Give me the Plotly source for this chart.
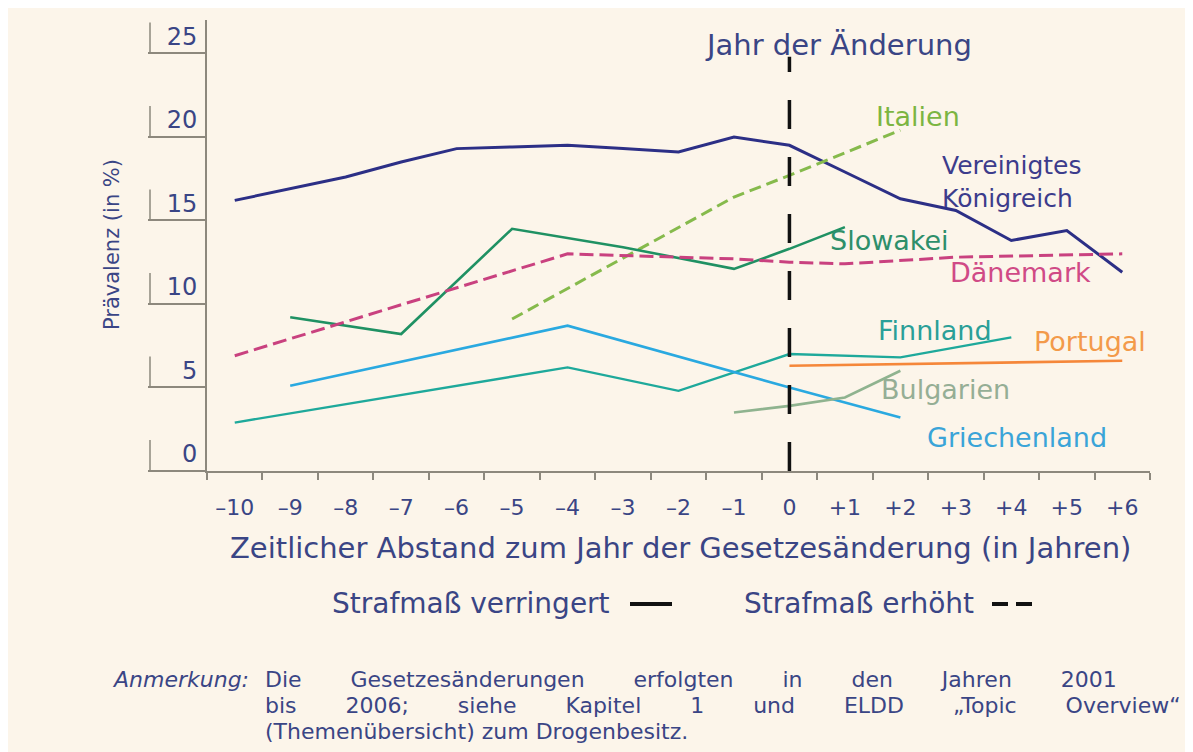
import plotly.graph_objects as go

# ---------------- data ----------------
uk_x = [-10, -9, -8, -7, -6, -5, -4, -3, -2, -1, 0, 1, 2, 3, 4, 5, 6]
uk_y = [16.2, 16.9, 17.6, 18.5, 19.3, 19.4, 19.5, 19.3, 19.1, 20.0, 19.5, 17.9, 16.3, 15.6, 13.8, 14.4, 11.9]

it_x = [-5, -1, 0, 2]
it_y = [9.1, 16.4, 17.7, 20.4]

sk_x = [-9, -7, -5, -3, -1, 0, 1]
sk_y = [9.2, 8.2, 14.5, 13.4, 12.1, 13.3, 14.6]

dk_x = [-10, -4, -1, 0, 1, 3, 6]
dk_y = [6.9, 13.0, 12.7, 12.5, 12.4, 12.8, 13.0]

fi_x = [-10, -4, -2, 0, 2, 4]
fi_y = [2.9, 6.2, 4.8, 7.0, 6.8, 8.0]

gr_x = [-9, -4, 0, 2]
gr_y = [5.1, 8.7, 5.0, 3.2]

pt_x = [0, 6]
pt_y = [6.3, 6.6]

bg_x = [-1, 0, 1, 2]
bg_y = [3.5, 3.9, 4.4, 6.0]

x_ticks = list(range(-10, 7))
x_labels = ["\u2013" + str(-v) if v < 0 else ("0" if v == 0 else "+" + str(v)) for v in x_ticks]
y_ticks = [0, 5, 10, 15, 20, 25]

# ---------------- styling ----------------
BG = "#fcf5ea"
NAVY = "#3a4585"
FONT = "DejaVu Sans, Verdana, sans-serif"
AXC = "#8d887d"
LBL = 27

series = [
    ("Vereinigtes Königreich", uk_x, uk_y, "#2c2f86", "solid", 3),
    ("Italien", it_x, it_y, "#86ba4c", "12px,6px", 3),
    ("Slowakei", sk_x, sk_y, "#1f9163", "solid", 2.6),
    ("Dänemark", dk_x, dk_y, "#c9417f", "14px,6px", 3),
    ("Finnland", fi_x, fi_y, "#1ea99b", "solid", 2.4),
    ("Griechenland", gr_x, gr_y, "#2aa9e0", "solid", 2.6),
    ("Portugal", pt_x, pt_y, "#f5873a", "solid", 2.6),
    ("Bulgarien", bg_x, bg_y, "#8fb38f", "solid", 2.6),
]

fig = go.Figure()
for name, xs, ys, col, dash, w in series:
    fig.add_trace(go.Scatter(x=xs, y=ys, mode="lines", name=name,
                             line=dict(color=col, width=w, dash=dash),
                             showlegend=False, hoverinfo="skip"))

labels = [
    ("Italien", 2.32, 21.2, "#7cb542", LBL),
    ("Vereinigtes<br>Königreich", 4.0, 17.3, "#3c3c8c", 25),
    ("Slowakei", 1.81, 13.8, "#2e8f6a", LBL),
    ("Dänemark", 4.16, 11.9, "#d04a86", LBL),
    ("Finnland", 2.63, 8.44, "#2a9f98", LBL),
    ("Portugal", 5.42, 7.78, "#f39a4a", LBL),
    ("Bulgarien", 2.81, 4.85, "#95ae95", LBL),
    ("Griechenland", 4.1, 1.98, "#3aa4d8", LBL),
]
annotations = []
for txt, ax, ay, col, sz in labels:
    annotations.append(dict(text=txt, x=ax, y=ay, xref="x", yref="y", showarrow=False,
                            xanchor="center", yanchor="middle",
                            font=dict(family=FONT, size=sz, color=col), align="left"))


def px_x(p):
    return (p - 207) / 943.0


def px_y(p):
    return (471 - p) / 451.0


def ptext(txt, x, y, size, xanchor="center", angle=0, color=NAVY):
    return dict(text=txt, x=px_x(x), y=px_y(y), xref="paper", yref="paper", showarrow=False,
                xanchor=xanchor, yanchor="middle", textangle=angle,
                font=dict(family=FONT, size=size, color=color))


def justify(line, nb):
    return ("\u00a0" * nb + " ").join(line.split(" "))


NOTE = 22
note1 = justify("Die Gesetzesänderungen erfolgten in den Jahren 2001", 6)
note2 = justify("bis 2006; siehe Kapitel 1 und ELDD \u201eTopic Overview\u201c", 6)
note3 = "(Themenübersicht) zum Drogenbesitz."

annotations += [
    ptext("Jahr der Änderung", 838, 45, 29),
    ptext("Prävalenz (in %)", 112, 245, 21, angle=-90),
    ptext("Zeitlicher Abstand zum Jahr der Gesetzesänderung (in Jahren)", 680, 548, 29),
    ptext("Strafmaß verringert", 612, 603, 28, xanchor="right"),
    ptext("Strafmaß erhöht", 976, 603, 28, xanchor="right"),
    ptext("<i>Anmerkung:</i>", 251, 679, NOTE, xanchor="right"),
    ptext(note1, 263, 679, NOTE, xanchor="left"),
    ptext(note2, 263, 705, NOTE, xanchor="left"),
    ptext(note3, 263, 731, NOTE, xanchor="left"),
]

shapes = [
    # vertical marker of the change year
    dict(type="line", xref="x", yref="y", x0=0, x1=0, y0=0, y1=24.8,
         line=dict(color="#111111", width=3.5, dash="29px,28px")),
    # legend samples
    dict(type="line", xref="paper", yref="paper", x0=px_x(630), x1=px_x(672), y0=px_y(604), y1=px_y(604),
         line=dict(color="#111111", width=4)),
    dict(type="line", xref="paper", yref="paper", x0=px_x(992), x1=px_x(1040), y0=px_y(604), y1=px_y(604),
         line=dict(color="#111111", width=4, dash="16px,8px")),
]
for v in y_ticks:
    shapes.append(dict(type="line", xref="paper", yref="y", x0=px_x(150), x1=px_x(150),
                       y0=v, y1=v + 1.85, line=dict(color=AXC, width=1.5)))

fig.update_layout(
    width=1193, height=752,
    margin=dict(l=199, r=51, t=12, b=289),
    paper_bgcolor=BG, plot_bgcolor=BG,
    font=dict(family=FONT, color=NAVY),
    annotations=annotations, shapes=shapes,
    xaxis=dict(range=[-10.5, 6.5], tickvals=x_ticks, ticktext=x_labels, ticks="",
               showgrid=False, zeroline=False, showline=True, linecolor=AXC, linewidth=2,
               tickfont=dict(family=FONT, size=22, color=NAVY), ticklabelstandoff=16,
               minor=dict(tick0=-10.5, dtick=1, ticks="outside", ticklen=7, tickcolor=AXC,
                          tickwidth=1.5, showgrid=False)),
    yaxis=dict(range=[0, 27], tickvals=y_ticks, ticks="outside", ticklen=57, tickcolor=AXC,
               tickwidth=1.5, showgrid=False, zeroline=False, showline=True, linecolor=AXC,
               linewidth=2, tickfont=dict(family=FONT, size=24, color=NAVY),
               ticklabelstandoff=-54, ticklabelshift=-17),
)

fig.write_html("out.html")
